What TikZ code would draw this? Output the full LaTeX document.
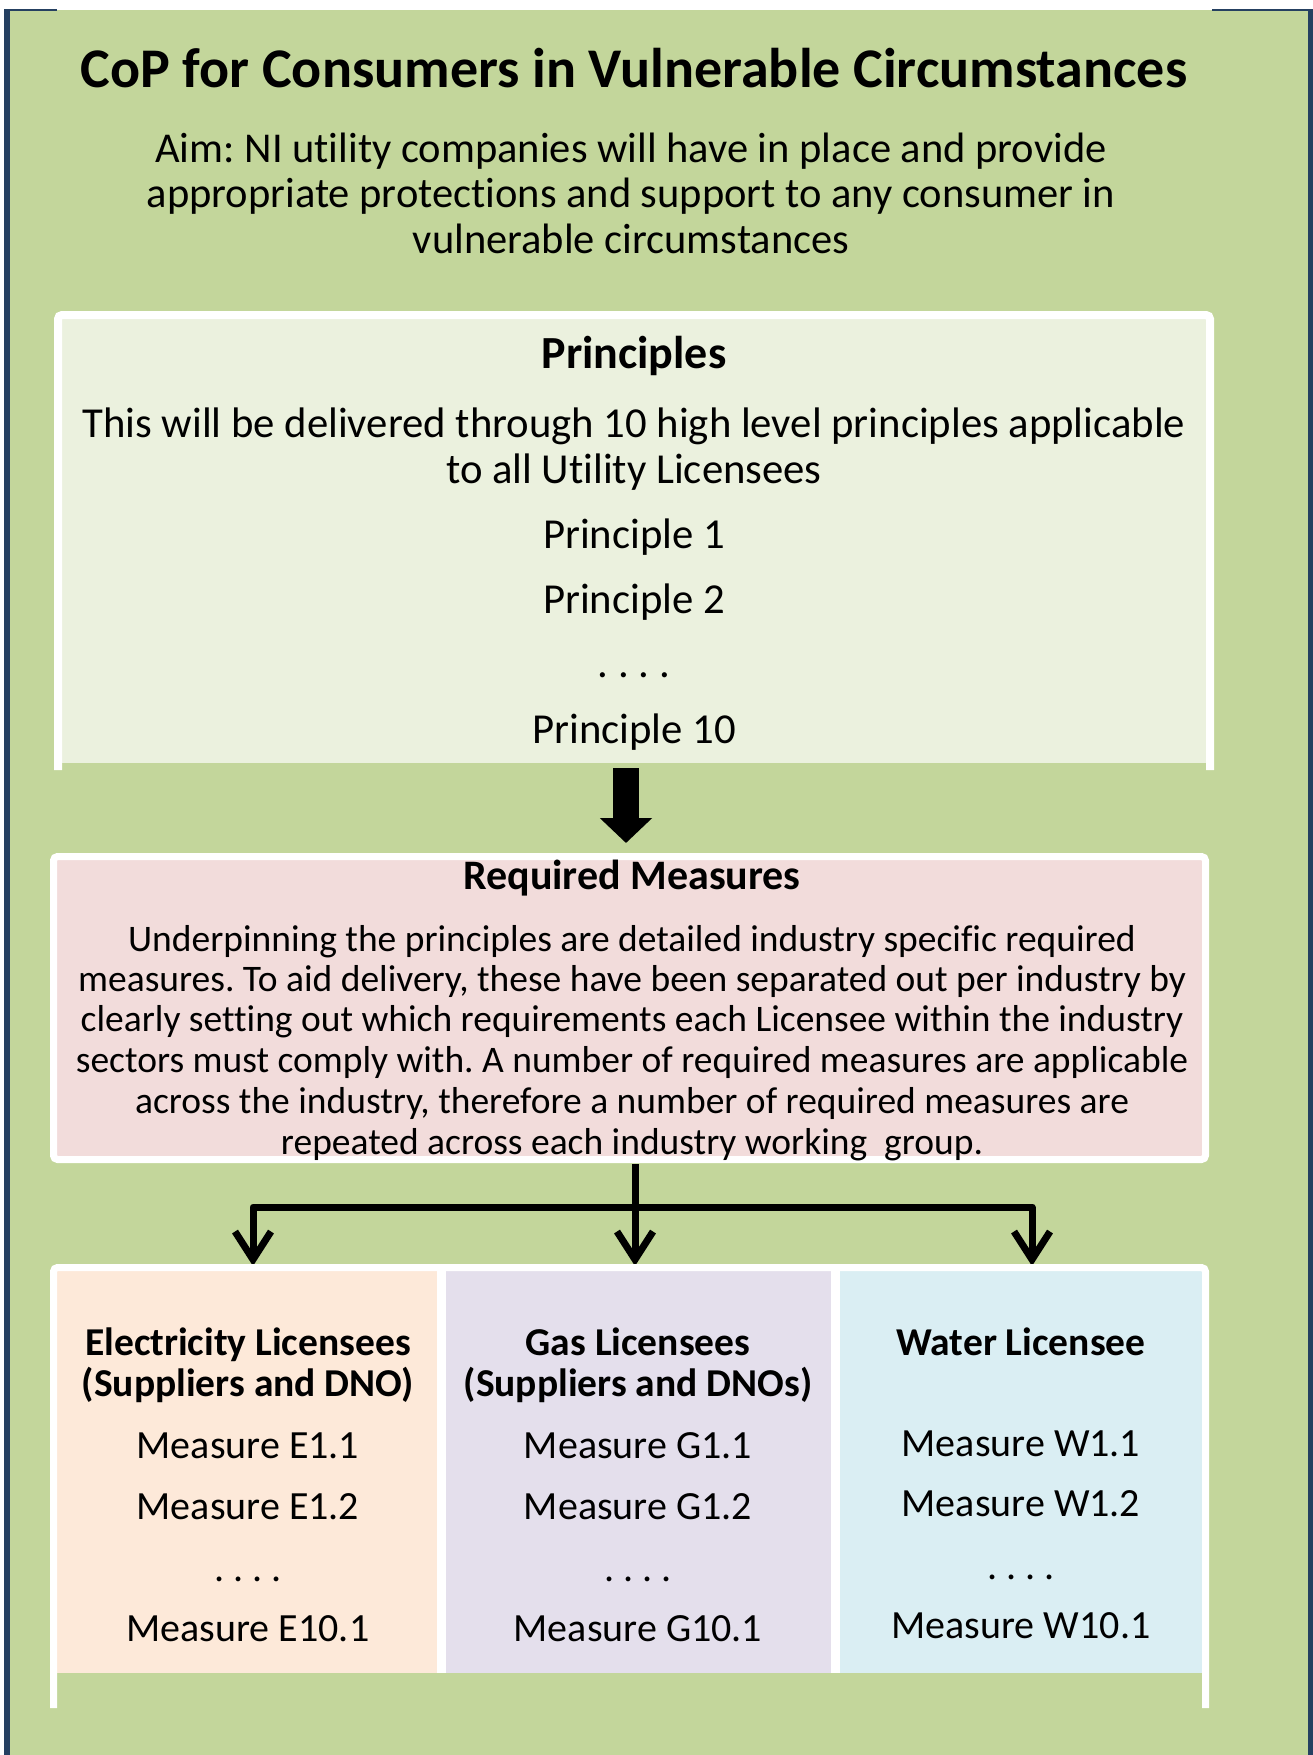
\documentclass[tikz,border=0pt]{standalone}
\usepackage{fontspec}
\setmainfont{Carlito}[Ligatures=NoCommon]
\usetikzlibrary{arrows.meta}
\definecolor{bg}{HTML}{C3D69B}
\definecolor{frameblue}{HTML}{254061}
\definecolor{princfill}{HTML}{EBF1DE}
\definecolor{reqfill}{HTML}{F2DCDB}
\definecolor{elecfill}{HTML}{FDE9D9}
\definecolor{gasfill}{HTML}{E4DFEC}
\definecolor{watfill}{HTML}{DAEEF3}
\tikzset{
  ttl/.style={font=\fontsize{56bp}{66bp}\selectfont\bfseries\frenchspacing, anchor=base, inner sep=0pt},
  aimtxt/.style={font=\fontsize{42.5bp}{50bp}\selectfont\frenchspacing, anchor=base, inner sep=0pt},
  phead/.style={font=\fontsize{46bp}{54bp}\selectfont\bfseries\frenchspacing, anchor=base, inner sep=0pt},
  ptxt/.style={font=\fontsize{42.7bp}{51bp}\selectfont\frenchspacing, anchor=base, inner sep=0pt},
  rhead/.style={font=\fontsize{42bp}{50bp}\selectfont\bfseries\frenchspacing, anchor=base, inner sep=0pt},
  rtxt/.style={font=\fontsize{37.5bp}{45bp}\selectfont\frenchspacing, anchor=base, inner sep=0pt},
  chead/.style={font=\fontsize{39.5bp}{47bp}\selectfont\bfseries\frenchspacing, anchor=base, inner sep=0pt},
  ctxt/.style={font=\fontsize{40bp}{48bp}\selectfont\frenchspacing, anchor=base, inner sep=0pt},
  whiteframe/.style={draw=white, line width=8bp, rounded corners=4bp},
  conn/.style={line width=7bp, line join=round, -{Straight Barb[length=28bp,width=36bp]}},
  blockarrow/.style={line width=26bp, -{Triangle[length=25bp,width=51bp]}}
}
\begin{document}
\begin{tikzpicture}[x=1bp,y=-1bp]
\useasboundingbox (0,0) rectangle (1313,1755);
\fill[white] (0,0) rectangle (1313,1755);
% background panel
\fill[bg] (10,10) rectangle (1308,1755);
\fill[frameblue] (4,9) rectangle (10,1755);
\fill[frameblue] (1308,9) rectangle (1313,1755);
\fill[frameblue] (10,9) rectangle (57,11);
\fill[frameblue] (1212,9) rectangle (1308,11);

% title and aim
\node[ttl] (title) at (634,87) {CoP for Consumers in Vulnerable Circumstances};
\node[aimtxt] (aim1) at (631,162) {Aim: NI utility companies will have in place and provide};
\node[aimtxt] (aim2) at (631,207) {appropriate protections and support to any consumer in};
\node[aimtxt] (aim3) at (631,253) {vulnerable circumstances};

% principles box
\fill[princfill] (62,319) rectangle (1207,763);
\draw[whiteframe] (58,770) -- (58,315) -- (1210,315) -- (1210,770);
\node[phead] (phd) at (634,368) {Principles};
\node[ptxt] (pl1) at (634,437) {This will be delivered through 10 high level principles applicable};
\node[ptxt] (pl2) at (634,483) {to all Utility Licensees};
\node[ptxt] (p1) at (634,548) {Principle 1};
\node[ptxt] (p2) at (634,613) {Principle 2};
\node[ptxt] (pd) at (634,677) {. . . .};
\node[ptxt] (p10) at (634,743) {Principle 10};

% block arrow
\coordinate (pB) at (626,768);
\coordinate (rT) at (626,843);
\draw[blockarrow] (pB) -- (rT);

% required measures box
\draw[whiteframe, line width=7bp, fill=reqfill] (53.5,856.5) rectangle (1205.5,1159.5);
\node[rhead] (rhd) at (632,889) {Required Measures};
\node[rtxt] (r1) at (632,951) {Underpinning the principles are detailed industry specific required};
\node[rtxt] (r2) at (632,991) {measures. To aid delivery, these have been separated out per industry by};
\node[rtxt] (r3) at (632,1031) {clearly setting out which requirements each Licensee within the industry};
\node[rtxt] (r4) at (632,1072) {sectors must comply with. A number of required measures are applicable};
\node[rtxt] (r5) at (632,1113) {across the industry, therefore a number of required measures are};
\node[rtxt] (r6) at (632,1154) {repeated across each industry working\ \ group.};

% connectors
\coordinate (reqS) at (635,1164);
\coordinate (junc) at (635,1207);
\coordinate (elecN) at (253,1266);
\coordinate (gasN) at (635,1266);
\coordinate (watN) at (1032,1266);
\draw[conn] (reqS) -- (gasN);
\draw[conn] (junc) -| (elecN);
\draw[conn] (junc) -| (watN);

% licensee columns
\fill[white] (57,1271) rectangle (1202,1673);
\fill[elecfill] (57,1271) rectangle (437,1673);
\fill[gasfill] (446,1271) rectangle (831,1673);
\fill[watfill] (840,1271) rectangle (1202,1673);
\draw[whiteframe, line width=7bp] (53.5,1708) -- (53.5,1267.5) -- (1205.5,1267.5) -- (1205.5,1708);

\node[chead] (eh1) at (248,1355) {Electricity Licensees};
\node[chead] (eh2) at (248,1396) {(Suppliers and DNO)};
\node[ctxt] (e1) at (248,1458) {Measure E1.1};
\node[ctxt] (e2) at (248,1519) {Measure E1.2};
\node[ctxt] (ed) at (248,1581) {. . . .};
\node[ctxt] (e10) at (248,1641) {Measure E10.1};

\node[chead] (gh1) at (638,1355) {Gas Licensees};
\node[chead] (gh2) at (638,1396) {(Suppliers and DNOs)};
\node[ctxt] (g1) at (638,1458) {Measure G1.1};
\node[ctxt] (g2) at (638,1519) {Measure G1.2};
\node[ctxt] (gd) at (638,1581) {. . . .};
\node[ctxt] (g10) at (638,1641) {Measure G10.1};

\node[chead] (wh1) at (1021,1355) {Water Licensee};
\node[ctxt] (w1) at (1021,1456) {Measure W1.1};
\node[ctxt] (w2) at (1021,1516) {Measure W1.2};
\node[ctxt] (wd) at (1021,1579) {. . . .};
\node[ctxt] (w10) at (1021,1638) {Measure W10.1};
\end{tikzpicture}
\end{document}
